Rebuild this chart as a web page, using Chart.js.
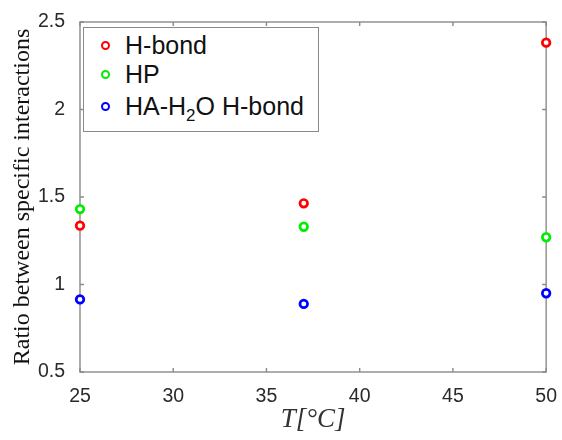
<!DOCTYPE html>
<html>
<head>
<meta charset="utf-8">
<script src="https://cdn.jsdelivr.net/npm/chart.js@4"></script>
<style>
  html, body { margin: 0; padding: 0; background: #fff; }
  #wrap { position: relative; width: 562px; height: 440px; }
  #legend {
    position: absolute; left: 83px; top: 27px; width: 234px; height: 103px;
    border: 1px solid #8a8a8a; background: #fff;
    font-family: "Liberation Sans", Arial, sans-serif; font-size: 25px; color: #111;
  }
  #legend .row { position: absolute; left: 0; height: 30px; line-height: 30px; white-space: nowrap; }
  #legend .mk {
    position: absolute; left: 17px; top: 11px; width: 5px; height: 5px;
    border-radius: 50%; border: 2.5px solid;
  }
  #legend .tx { position: absolute; left: 41px; top: 0; }
  #legend sub { font-size: 17px; line-height: 0; vertical-align: -6px; }
</style>
</head>
<body>
<div id="wrap">
  <canvas id="chart1" width="562" height="440"></canvas>
  <div id="legend"></div>
</div>
<script>
const temps = [25, 37, 50];
const hBond = [1.336, 1.464, 2.382];
const hp = [1.431, 1.330, 1.270];
const haWater = [0.915, 0.889, 0.950];
const xTicks = [25, 30, 35, 40, 45, 50];
const yTicks = [0.5, 1, 1.5, 2, 2.5];

const labels = ["H-bond", "HP", "HA-H<sub>2</sub>O H-bond"];
const colors = ["#ff0000", "#00ee00", "#0000ff"];
const rowTops = [2, 31, 63];

const axisColor = "#8a8a8a";

function pts(ys) {
  return temps.map((t, i) => ({ x: t, y: ys[i] }));
}

// box around plot area with inward ticks on all four sides
const boxPlugin = {
  id: "box",
  beforeDatasetsDraw(chart) {
    const { ctx, chartArea: a, scales } = chart;
    ctx.save();
    ctx.strokeStyle = axisColor;
    ctx.lineWidth = 1.4;
    ctx.strokeRect(a.left, a.top, a.right - a.left, a.bottom - a.top);
    ctx.beginPath();
    xTicks.forEach(v => {
      const px = scales.x.getPixelForValue(v);
      ctx.moveTo(px, a.bottom); ctx.lineTo(px, a.bottom - 4);
      ctx.moveTo(px, a.top); ctx.lineTo(px, a.top + 4);
    });
    yTicks.forEach(v => {
      const py = scales.y.getPixelForValue(v);
      ctx.moveTo(a.left, py); ctx.lineTo(a.left + 4, py);
      ctx.moveTo(a.right, py); ctx.lineTo(a.right - 4, py);
    });
    ctx.stroke();
    ctx.restore();
  }
};

const chart1 = new Chart(document.getElementById("chart1"), {
  type: "scatter",
  data: {
    datasets: [
      { label: "H-bond", data: pts(hBond), borderColor: colors[0] },
      { label: "HP", data: pts(hp), borderColor: colors[1] },
      { label: "HA-H2O H-bond", data: pts(haWater), borderColor: colors[2] }
    ].map(d => Object.assign(d, {
      backgroundColor: "#fff", pointRadius: 3.8, pointBorderWidth: 2.7, clip: false
    }))
  },
  options: {
    responsive: false,
    animation: false,
    layout: { padding: { top: 22, right: 14, left: 0, bottom: 0 } },
    plugins: { legend: { display: false }, tooltip: { enabled: false } },
    scales: {
      x: {
        type: "linear", min: 25, max: 50,
        afterBuildTicks: s => { s.ticks = xTicks.map(v => ({ value: v })); },
        afterFit: s => { s.height = 68; },
        grid: { display: false },
        border: { display: false },
        ticks: { color: "#2a2a2a", padding: 5, font: { family: "Liberation Sans", size: 19.5 } },
        title: {
          display: true, text: "T[°C]", color: "#333", padding: { top: 0 },
          font: { family: "Liberation Serif", size: 27, style: "italic" }
        }
      },
      y: {
        type: "linear", min: 0.5, max: 2.5,
        afterBuildTicks: s => { s.ticks = yTicks.map(v => ({ value: v })); },
        afterFit: s => { s.width = 80; },
        grid: { display: false },
        border: { display: false },
        ticks: {
          color: "#2a2a2a", padding: 7, font: { family: "Liberation Sans", size: 19.5 },
          callback: v => String(v)
        },
        title: {
          display: true, text: "Ratio between specific interactions", color: "#111",
          padding: { top: 8, bottom: 0 },
          font: { family: "Liberation Serif", size: 24 }
        }
      }
    }
  },
  plugins: [boxPlugin]
});

// legend built from the datasets (HTML so the subscript renders)
const legend = document.getElementById("legend");
chart1.data.datasets.forEach((d, i) => {
  const row = document.createElement("div");
  row.className = "row";
  row.style.top = rowTops[i] + "px";
  row.innerHTML = '<span class="mk" style="border-color:' + d.borderColor + '"></span>' +
    '<span class="tx">' + labels[i] + '</span>';
  legend.appendChild(row);
});
</script>
</body>
</html>
